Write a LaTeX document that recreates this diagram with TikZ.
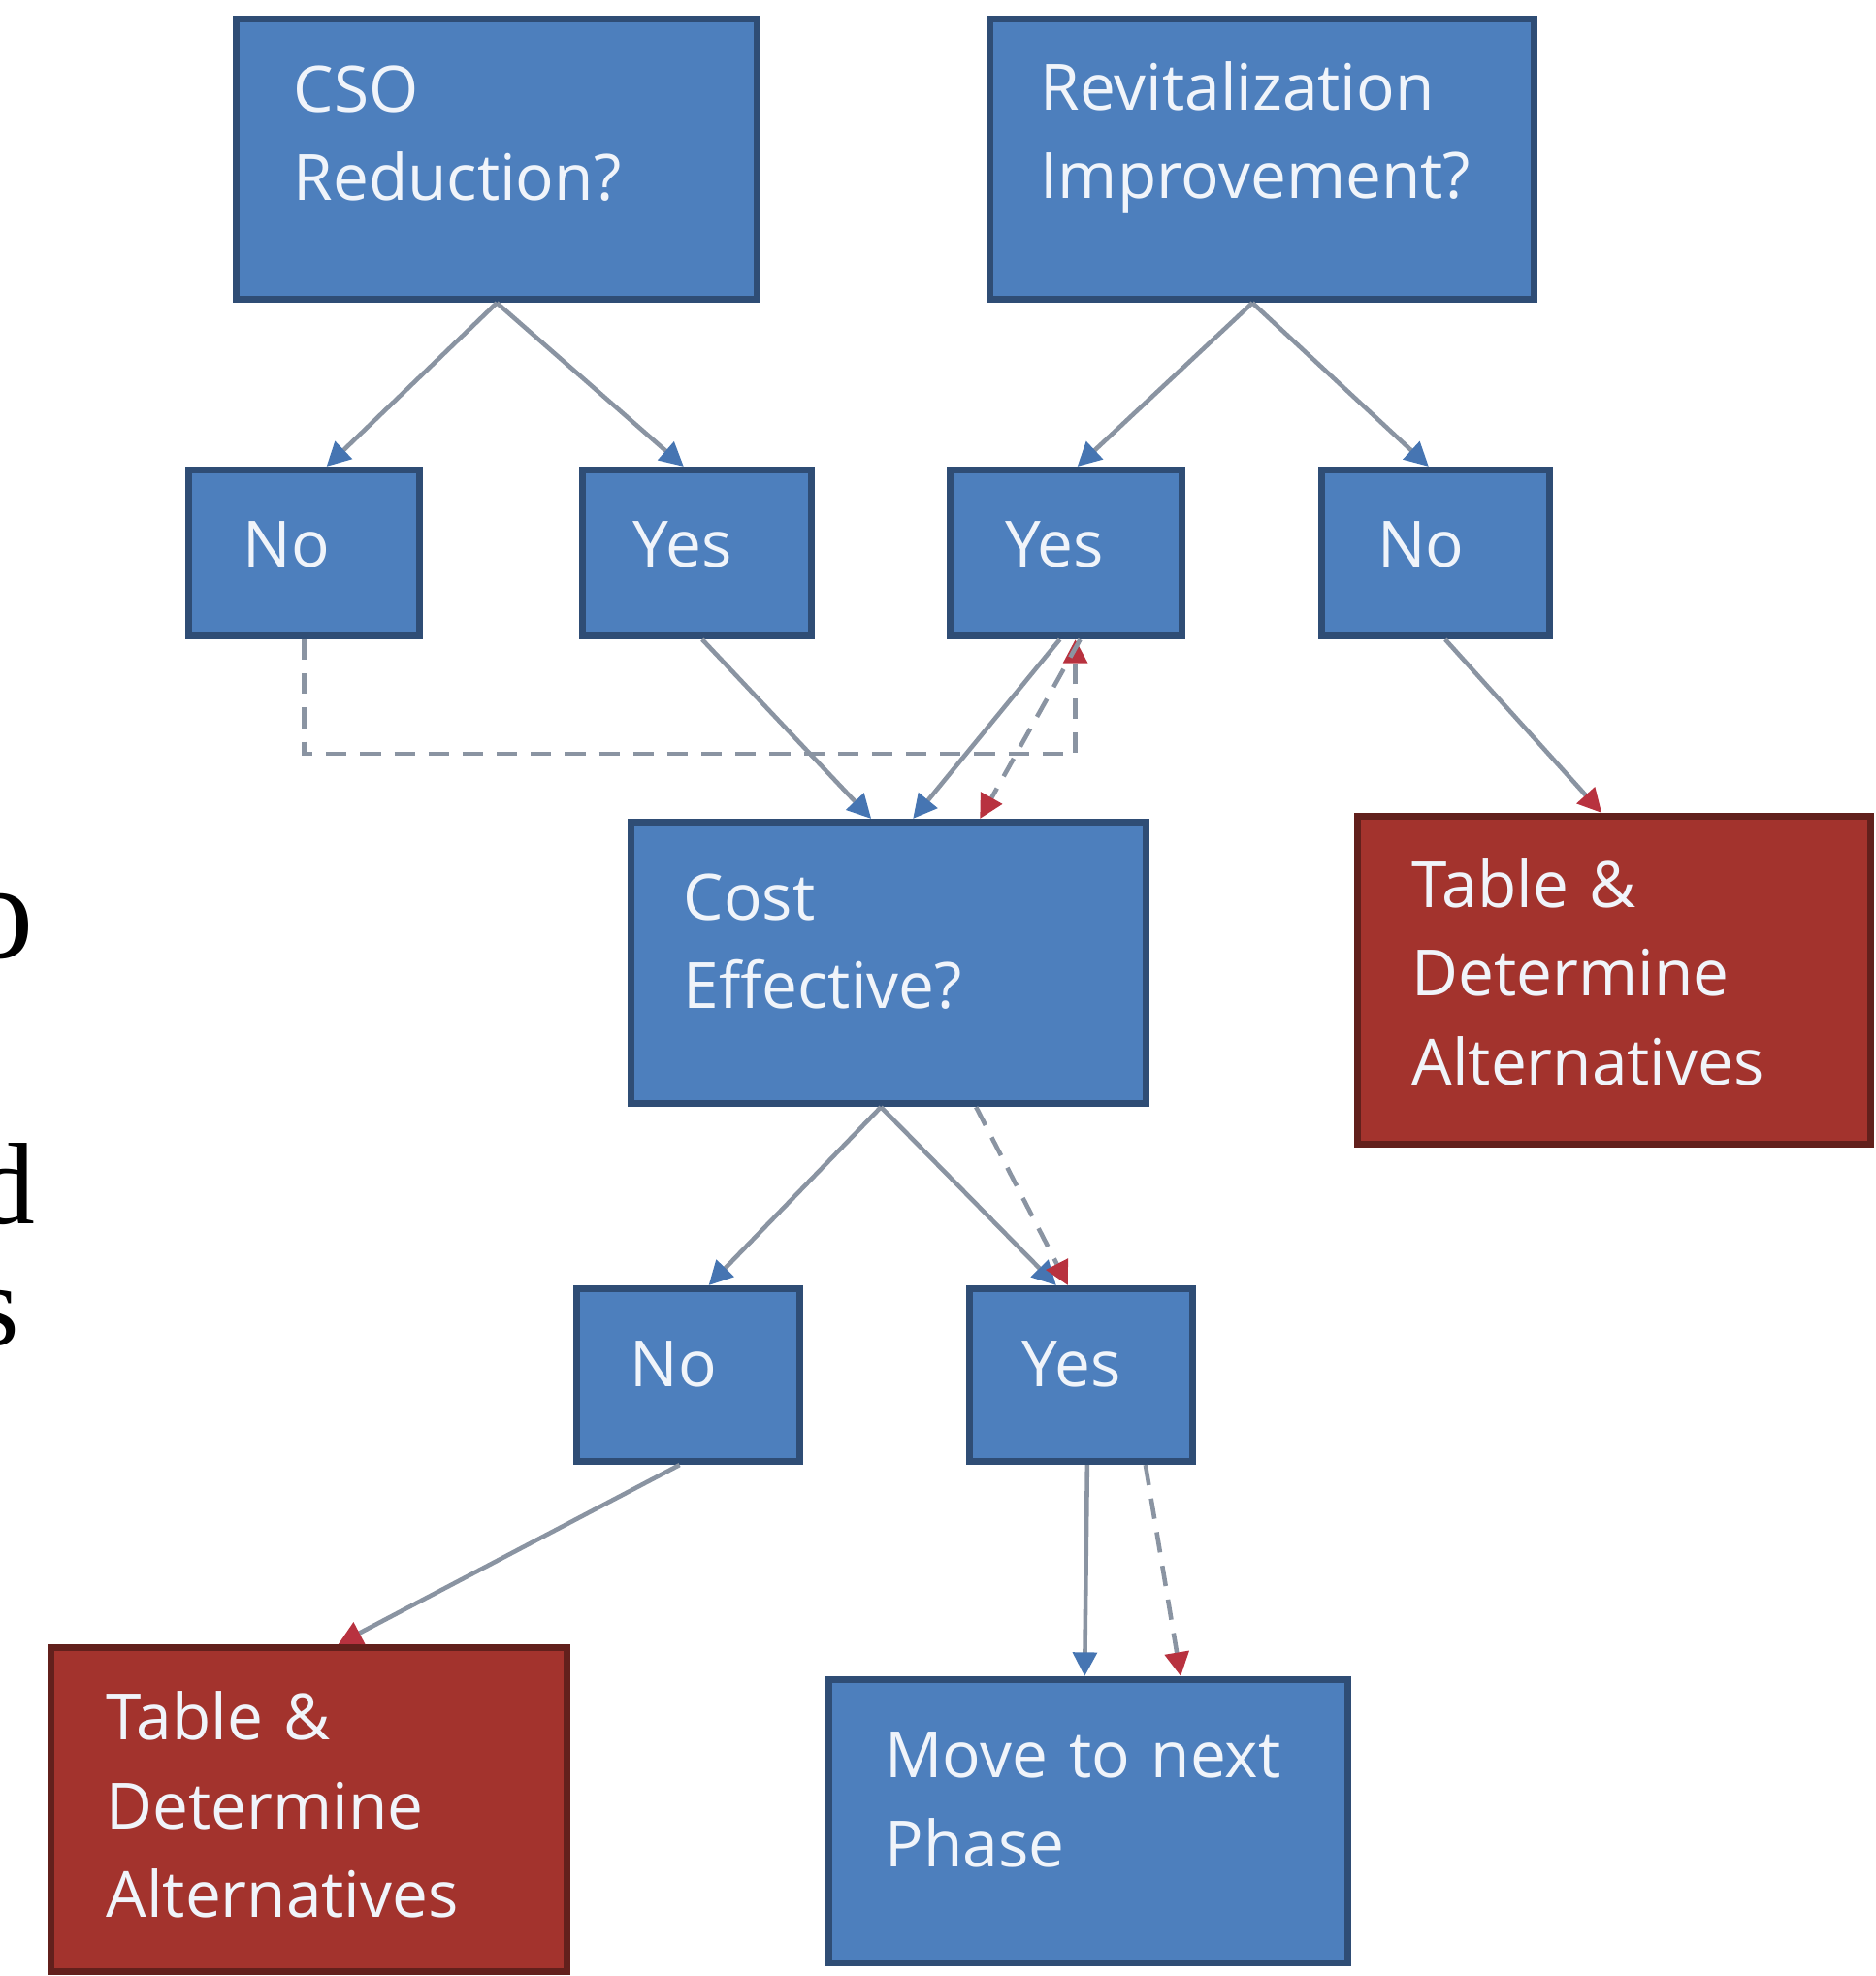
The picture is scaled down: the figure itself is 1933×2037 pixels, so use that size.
\documentclass[tikz,border=0pt]{standalone}
\usepackage{fontspec}
\newfontfamily\boxfont{Open Sans}
\newfontfamily\pagefont{Liberation Serif}
\usetikzlibrary{positioning,arrows.meta}
\definecolor{boxblue}{HTML}{4D7FBD}
\definecolor{bordblue}{HTML}{2F4D75}
\definecolor{boxred}{HTML}{A3332D}
\definecolor{bordred}{HTML}{62201C}
\definecolor{boxtext}{HTML}{F0F4FA}
\definecolor{linegray}{HTML}{8A94A2}
\definecolor{arblue}{HTML}{4675B2}
\definecolor{arred}{HTML}{B8323F}

\tikzset{
	qbox/.style={draw=bordblue, fill=boxblue, line width=2pt, text=boxtext, align=left, inner ysep=0pt, anchor=north west, font=\boxfont\fontsize{18.7}{26}\selectfont},
	rbox/.style={qbox, draw=bordred, fill=boxred},
	boxsize/.style n args={4}{text width=#1, inner xsep=#2, text height=#3, text depth=#4},
	conn/.style={draw=linegray, line width=1.3pt},
	toblue/.style={conn, -{Triangle[length=7pt,width=7pt,color=arblue]}},
	tored/.style={conn, -{Triangle[length=7pt,width=7pt,color=arred]}},
	dashln/.style={dash pattern=on 6pt off 4pt},
	frag/.style={anchor=base west, inner sep=0pt, font=\pagefont\fontsize{34}{40}\selectfont}
}

\begin{document}
\begin{tikzpicture}[x=0.01cm, y=0.01cm]
	\useasboundingbox (0,0) rectangle (1933,2037);

	% cut-off letters of the page text on the left
	\node[frag, font=\pagefont\fontsize{40}{44}\selectfont] (fro) at (-36,1049) {o};
	\node[frag] (frd) at (-24,775) {d};
	\node[frag] (frs) at (-27,650) {s};

	\node[qbox, boxsize={4.19cm}{0.59cm}{0.96cm}{1.93cm}] (cso) at (240,2021) {CSO\\Reduction?};
	\node[qbox, boxsize={4.57cm}{0.52cm}{0.94cm}{1.95cm}] (rev) at (1017,2021) {Revitalization\\Improvement?};

	\node[qbox, boxsize={1.26cm}{0.56cm}{1.00cm}{0.71cm}] (no1) at (191,1556) {No};
	\node[qbox, boxsize={1.32cm}{0.52cm}{1.00cm}{0.71cm}, right=1.61cm of no1] (yes1) {Yes};
	\node[qbox, boxsize={1.25cm}{0.57cm}{1.00cm}{0.71cm}, right=1.35cm of yes1] (yes2) {Yes};
	\node[qbox, boxsize={1.19cm}{0.58cm}{1.00cm}{0.71cm}, right=1.37cm of yes2] (no2) {No};

	\node[qbox, boxsize={4.23cm}{0.54cm}{1.01cm}{1.89cm}] (cost) at (647,1193) {Cost\\Effective?};
	\node[rbox, boxsize={4.17cm}{0.56cm}{0.94cm}{2.44cm}] (tab1) at (1396,1199) {Table \&\\Determine\\Alternatives};

	\node[qbox, boxsize={1.20cm}{0.55cm}{1.01cm}{0.77cm}] (no3) at (591,712) {No};
	\node[qbox, boxsize={1.22cm}{0.54cm}{1.01cm}{0.77cm}, right=1.68cm of no3] (yes3) {Yes};

	\node[rbox, boxsize={4.18cm}{0.57cm}{0.95cm}{2.39cm}] (tab2) at (49,342) {Table \&\\Determine\\Alternatives};
	\node[qbox, boxsize={4.19cm}{0.58cm}{1.01cm}{1.91cm}] (move) at (851,309) {Move to next\\Phase};

	\draw[toblue] (cso.south) -- ([xshift=0.23cm]no1.north);
	\draw[toblue] (cso.south) -- ([xshift=-0.14cm]yes1.north);
	\draw[toblue] ([xshift=-0.1cm]rev.south) -- ([xshift=0.12cm]yes2.north);
	\draw[toblue] ([xshift=-0.1cm]rev.south) -- ([xshift=-0.07cm]no2.north);

	\draw[toblue] ([xshift=0.05cm]yes1.south) -- ([xshift=-0.18cm]cost.north);
	\draw[toblue] ([xshift=-0.06cm]yes2.south) -- ([xshift=0.25cm]cost.north);
	\draw[tored, dashln] (no1.south) -- ++(0,-118) -| ([xshift=0.1cm]yes2.south);
	\draw[tored, dashln] ([xshift=0.15cm]yes2.south) -- ([xshift=0.94cm]cost.north);
	\draw[tored] ([xshift=0.1cm]no2.south) -- ([xshift=-0.13cm]tab1.north);

	\draw[toblue] ([xshift=-0.08cm]cost.south) -- ([xshift=0.21cm]no3.north);
	\draw[toblue] ([xshift=-0.08cm]cost.south) -- ([xshift=-0.26cm]yes3.north);
	\draw[tored, dashln] ([xshift=0.9cm]cost.south) -- ([xshift=-0.14cm]yes3.north);

	\draw[tored] ([xshift=-0.09cm]no3.south) -- ([xshift=0.3cm]tab2.north);
	\draw[toblue] ([xshift=0.06cm]yes3.south) -- ([xshift=-0.04cm]move.north);
	\draw[tored, dashln] ([xshift=0.66cm]yes3.south) -- ([xshift=0.95cm]move.north);
\end{tikzpicture}
\end{document}
